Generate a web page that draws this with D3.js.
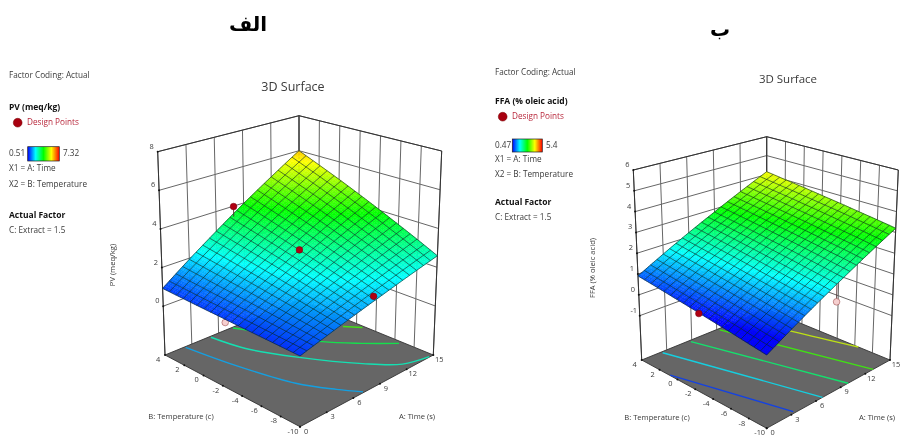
<!DOCTYPE html>
<html lang="fa"><head><meta charset="utf-8">
<style>html,body{margin:0;padding:0;background:#fff}svg{display:block;filter:blur(.35px)}
text{font-family:"Open Sans","Noto Sans",sans-serif;fill:#3a3a3a}</style>
<script src="https://cdn.jsdelivr.net/npm/d3@7"></script></head><body>
<svg id="c" width="901" height="437"></svg>
<script>
// ---------- shared ticks ----------
const timeTicks = [0, 3, 6, 9, 12, 15];
const tempTicks = [-10, -8, -6, -4, -2, 0, 2, 4];
const colorStops = ["#0000ff", "#00ffff", "#00ff00", "#ffff00", "#ff0000"];

// ---------- panel A: PV ----------
const pvZTicks = [0, 2, 4, 6, 8];
const pvSurface = [ // rows: temperature ticks, columns: time ticks
  [0.82, 1.17, 1.53, 1.88, 2.24, 2.59],
  [0.83, 1.28, 1.73, 2.18, 2.63, 3.08],
  [0.84, 1.38, 1.93, 2.47, 3.02, 3.56],
  [0.85, 1.49, 2.13, 2.77, 3.41, 4.05],
  [0.87, 1.60, 2.34, 3.07, 3.81, 4.54],
  [0.88, 1.71, 2.54, 3.37, 4.20, 5.03],
  [0.90, 1.82, 2.74, 3.67, 4.59, 5.51],
  [0.92, 1.94, 2.95, 3.97, 4.98, 6.00]];
const pvContourLevels = [1.67, 2.6, 3.45, 4.3];
const pvContours = [
  [[2.2, 3.9], [2.96, 0.07], [4.5, -5.4], [6.05, -8.2], [7.2, -9.9]],
  [[5, 3.87], [5.7, 0.92], [7.7, -2.8], [10.4, -6.9], [12.4, -9.2], [14.6, -9.95]],
  [[7.5, 3.9], [9.5, 0.5], [10.9, -2.26], [12.8, -4.6], [14.7, -6.7]],
  [[13.9, -1.6], [14.8, -2.8]]];
const pvPoints = [ // time, temperature, response
  [0.5, -1.9, 0.5], [7.7, 3.8, 4.05], [8.25, -2.3, 2.85], [8.5, -9.6, 1.85]];
const pvPointHidden = [true, false, false, false];

// ---------- panel B: FFA ----------
const ffaZTicks = [-1, 0, 1, 2, 3, 4, 5, 6];
const ffaSurface = [
  [0.11, 0.73, 1.35, 1.96, 2.58, 3.20],
  [0.22, 0.84, 1.47, 2.09, 2.72, 3.34],
  [0.34, 0.97, 1.59, 2.22, 2.84, 3.47],
  [0.45, 1.08, 1.71, 2.35, 2.98, 3.61],
  [0.57, 1.20, 1.84, 2.47, 3.11, 3.74],
  [0.68, 1.32, 1.96, 2.60, 3.24, 3.88],
  [0.80, 1.44, 2.08, 2.73, 3.37, 4.01],
  [0.91, 1.56, 2.21, 2.85, 3.50, 4.15]];
const ffaContourLevels = [0.75, 1.6, 2.4, 3.2, 3.95];
const ffaContours = [
  [[0.05, 0.85], [3.45, -9.8]],
  [[2.36, 3.85], [6.8, -10]],
  [[5.7, 3.8], [9.9, -10]],
  [[9.15, 3.8], [12.95, -10]],
  [[12.2, 4], [13.4, -0.5], [15, -6.4]]];
const ffaPoints = [[0, -2.6, 0.5], [8.25, -10, 0.98]];
const ffaPointHidden = [false, true];

// ---------- layout of each panel ----------
const panels = [
 {z:[-2.53,8], zTicks:pvZTicks, surface:pvSurface, levels:pvContourLevels, contours:pvContours, pts:pvPoints, hidden:pvPointHidden,
  range:[0.51,7.32], rangeLabels:["0.51","7.32"], zTitle:"PV (meq/kg)", zTitleXY:[113,265],
  floor:{F:[300,426.7],R:[433.3,355],L:[165,355],K:[299,300]},
  top:{F:[300,204.3],R:[441.7,151],L:[157.7,151.7],K:[299,115.7]},
  title:[293,88,12.5], head:["الف",248,25],
  bTitle:[181,417], aTitle:[417,417],
  lg:{x:9,coding:76,name:"PV (meq/kg)",nameY:108,dot:[17.7,122.7],dpX:27,dpY:123,bar:[27.7,146.7,31.6,14.3],hi:63,rangeY:154,x1:169,x2:185,af:216,c:231}},
 {z:[-3.13,6], zTicks:ffaZTicks, surface:ffaSurface, levels:ffaContourLevels, contours:ffaContours, pts:ffaPoints, hidden:ffaPointHidden,
  range:[0.47,5.4], rangeLabels:["0.47","5.4"], zTitle:"FFA (% oleic acid)", zTitleXY:[593,268],
  floor:{F:[766.7,428.3],R:[890,360],L:[641.7,360],K:[766.7,309.3]},
  top:{F:[766.7,221.7],R:[898.3,170],L:[633.3,170],K:[766.7,136.7]},
  title:[788,80,11.5], head:["ب",720,30],
  bTitle:[657,418], aTitle:[877,418],
  lg:{x:495,coding:73,name:"FFA (% oleic acid)",nameY:102,dot:[502.7,116.7],dpX:512,dpY:117,bar:[512.3,139,30,13],hi:546,rangeY:146,x1:160,x2:175,af:203,c:218}}
];

const svg = d3.select("#c");
const defs = svg.append("defs");
const CELLS = 20, FINE = 3;

panels.forEach((p, pi) => {
  const g = svg.append("g");
  const uS = d3.scaleLinear().domain(d3.extent(timeTicks)).range([0, 1]);
  const vS = d3.scaleLinear().domain(d3.extent(tempTicks)).range([0, 1]);
  const wS = d3.scaleLinear().domain(p.z).range([0, 1]);
  const mix = (a, b, t) => a + (b - a) * t;
  const biq = (c, u, v, i) => mix(mix(c.F[i], c.R[i], u), mix(c.L[i], c.K[i], u), v);
  const proj = (a, b, z) => {
    const u = uS(a), v = vS(b), w = wS(z);
    return [mix(biq(p.floor, u, v, 0), biq(p.top, u, v, 0), w),
            mix(biq(p.floor, u, v, 1), biq(p.top, u, v, 1), w)];
  };
  const color = d3.scaleLinear()
    .domain(d3.range(5).map(i => p.range[0] + (p.range[1] - p.range[0]) * i / 4))
    .range(colorStops).clamp(true);
  const colI = d3.scaleLinear().domain(d3.extent(timeTicks)).range([0, timeTicks.length - 1]);
  const rowI = d3.scaleLinear().domain(d3.extent(tempTicks)).range([0, tempTicks.length - 1]);
  const surfZ = (a, b) => {
    const ci = colI(a), ri = rowI(b);
    const c0 = Math.min(Math.floor(ci), timeTicks.length - 2), r0 = Math.min(Math.floor(ri), tempTicks.length - 2);
    const m = p.surface;
    return mix(mix(m[r0][c0], m[r0][c0 + 1], ci - c0), mix(m[r0 + 1][c0], m[r0 + 1][c0 + 1], ci - c0), ri - r0);
  };
  const line = d3.line();
  const zB = p.z[0], zT = p.z[1];
  const [aMin, aMax] = d3.extent(timeTicks), [bMin, bMax] = d3.extent(tempTicks);
  const gridCol = "#666", edge = "#333";

  // walls
  const wall = g.append("g").attr("fill", "none").attr("stroke", gridCol).attr("stroke-width", 1);
  timeTicks.forEach(a => wall.append("path").attr("d", line([proj(a, bMax, zB), proj(a, bMax, zT)])));
  tempTicks.forEach(b => wall.append("path").attr("d", line([proj(aMax, b, zB), proj(aMax, b, zT)])));
  p.zTicks.forEach(z => {
    wall.append("path").attr("d", line([proj(aMin, bMax, z), proj(aMax, bMax, z)]));
    wall.append("path").attr("d", line([proj(aMax, bMax, z), proj(aMax, bMin, z)]));
  });
  const rim = g.append("g").attr("fill", "none").attr("stroke", edge).attr("stroke-width", 1);
  rim.append("path").attr("d", line([proj(aMin, bMax, zT), proj(aMax, bMax, zT), proj(aMax, bMin, zT)]));
  rim.append("path").attr("d", line([proj(aMin, bMax, zB), proj(aMin, bMax, zT)]));
  rim.append("path").attr("d", line([proj(aMax, bMin, zB), proj(aMax, bMin, zT)]));
  rim.append("path").attr("d", line([proj(aMax, bMax, zB), proj(aMax, bMax, zT)]));

  // floor
  g.append("path").attr("d", line([proj(aMin, bMin, zB), proj(aMax, bMin, zB), proj(aMax, bMax, zB), proj(aMin, bMax, zB)]) + "Z")
    .attr("fill", "#666").attr("stroke", edge).attr("stroke-width", 0.9);

  // contours on the floor
  const curve = d3.line().curve(d3.curveCatmullRom.alpha(0.5));
  p.contours.forEach((c, i) => g.append("path")
    .attr("d", curve(c.map(d => proj(d[0], d[1], zB))))
    .attr("fill", "none").attr("stroke", color(p.levels[i])).attr("stroke-width", 1.4).attr("opacity", .8));

  // tick marks and labels
  const lab = (x, y, t, sz, anchor) => g.append("text").attr("x", x).attr("y", y).attr("font-size", sz)
    .attr("text-anchor", anchor || "middle").attr("dominant-baseline", "middle").text(t);
  timeTicks.forEach(a => {
    const q = proj(a, bMin, zB);
    g.append("circle").attr("cx", q[0]).attr("cy", q[1]).attr("r", 1).attr("fill", "#111");
    lab(q[0] + 6, q[1] + 5, a, 7.4);
  });
  tempTicks.forEach(b => {
    const q = proj(aMin, b, zB);
    g.append("circle").attr("cx", q[0]).attr("cy", q[1]).attr("r", 1).attr("fill", "#111");
    lab(q[0] - 7, q[1] + 5, b, 7.4);
  });
  p.zTicks.forEach(z => {
    const q = proj(aMin, bMax, z);
    g.append("circle").attr("cx", q[0]).attr("cy", q[1]).attr("r", 1).attr("fill", "#111");
    lab(q[0] - 6, q[1] - 5, z, 7.4);
  });

  const drawPoint = (d, hidden) => {
    const q = proj(d[0], d[1], d[2]), s = proj(d[0], d[1], surfZ(d[0], d[1]));
    g.append("path").attr("d", line([q, s])).attr("stroke", "#4a2a2a").attr("stroke-width", 0.9);
    g.append("circle").attr("cx", q[0]).attr("cy", q[1]).attr("r", 3.3)
      .attr("fill", hidden ? "#f6cfcf" : "#b00012")
      .attr("stroke", hidden ? "#a05050" : "#800010").attr("stroke-width", 0.6);
  };
  p.pts.forEach((d, i) => { if (p.hidden[i]) drawPoint(d, true); });

  // surface: smooth fill
  const aStep = (aMax - aMin) / CELLS, bStep = (bMax - bMin) / CELLS;
  const fa = aStep / FINE, fb = bStep / FINE;
  const fill = g.append("g");
  for (let j = 0; j < CELLS * FINE; j++) for (let i = 0; i < CELLS * FINE; i++) {
    const a0 = aMin + i * fa, b0 = bMin + j * fb, a1 = Math.min(aMax, a0 + fa), b1 = Math.min(bMax, b0 + fb);
    const c = color(surfZ((a0 + a1) / 2, (b0 + b1) / 2));
    fill.append("path")
      .attr("d", line([proj(a0, b0, surfZ(a0, b0)), proj(a1, b0, surfZ(a1, b0)), proj(a1, b1, surfZ(a1, b1)), proj(a0, b1, surfZ(a0, b1))]) + "Z")
      .attr("fill", c).attr("stroke", c).attr("stroke-width", .4);
  }
  // surface: mesh lines
  const mesh = g.append("g").attr("fill", "none").attr("stroke", "#06251e").attr("stroke-opacity", .75).attr("stroke-width", 0.8);
  for (let k = 0; k <= CELLS; k++) {
    const a = aMin + k * aStep, b = bMin + k * bStep;
    mesh.append("path").attr("d", line(d3.range(CELLS + 1).map(t => { const bb = bMin + t * bStep; return proj(a, bb, surfZ(a, bb)); })));
    mesh.append("path").attr("d", line(d3.range(CELLS + 1).map(t => { const aa = aMin + t * aStep; return proj(aa, b, surfZ(aa, b)); })));
  }
  p.pts.forEach((d, i) => { if (!p.hidden[i]) drawPoint(d, false); });

  // titles
  g.append("text").attr("x", p.title[0]).attr("y", p.title[1]).attr("font-size", p.title[2])
    .attr("text-anchor", "middle").attr("dominant-baseline", "middle").text("3D Surface");
  g.append("text").attr("x", p.head[1]).attr("y", p.head[2]).attr("text-anchor", "middle").attr("dominant-baseline", "middle")
    .style("font-family", '"DejaVu Sans"').style("fill", "#000").attr("font-weight", "bold").attr("font-size", 20).text(p.head[0]);
  lab(p.bTitle[0], p.bTitle[1], "B: Temperature (c)", 7.6);
  lab(p.aTitle[0], p.aTitle[1], "A: Time (s)", 7.6);
  g.append("text").attr("transform", `translate(${p.zTitleXY[0]},${p.zTitleXY[1]}) rotate(-90)`)
    .attr("font-size", 7.6).attr("text-anchor", "middle").attr("dominant-baseline", "middle").text(p.zTitle);

  // legend
  const L = p.lg;
  const lt = (y, t, bold, x) => g.append("text").attr("x", x === undefined ? L.x : x).attr("y", y).attr("font-size", bold ? 8.5 : 8.2)
    .attr("font-weight", bold ? "700" : "400").style("fill", bold ? "#111" : "#3a3a3a").attr("dominant-baseline", "middle").text(t);
  lt(L.coding, "Factor Coding: Actual");
  lt(L.nameY, L.name, true);
  g.append("circle").attr("cx", L.dot[0]).attr("cy", L.dot[1]).attr("r", 4.4).attr("fill", "#a80010").attr("stroke", "#700").attr("stroke-width", .5);
  lt(L.dpY, "Design Points", false, L.dpX).style("fill", "#b8283c");
  const gid = "grad" + pi;
  const gr = defs.append("linearGradient").attr("id", gid);
  colorStops.forEach((c, i) => gr.append("stop").attr("offset", i / 4).attr("stop-color", c));
  g.append("rect").attr("x", L.bar[0]).attr("y", L.bar[1]).attr("width", L.bar[2]).attr("height", L.bar[3])
    .attr("fill", `url(#${gid})`).attr("stroke", "#222").attr("stroke-width", .7);
  lt(L.rangeY, p.rangeLabels[0]);
  lt(L.rangeY, p.rangeLabels[1], false, L.hi);
  lt(L.x1, "X1 = A: Time");
  lt(L.x2, "X2 = B: Temperature");
  lt(L.af, "Actual Factor", true);
  lt(L.c, "C: Extract = 1.5");
});
</script></body></html>
